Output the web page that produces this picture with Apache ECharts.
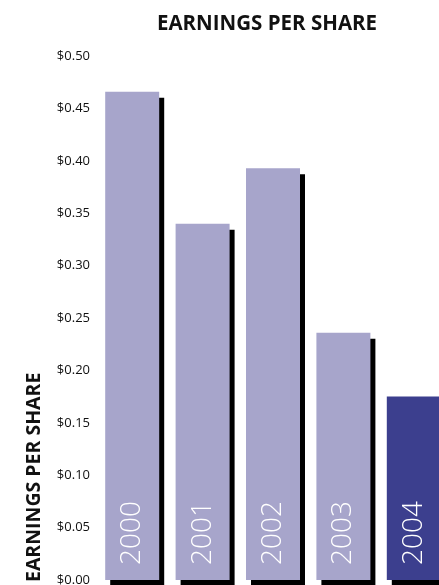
<!DOCTYPE html>
<html>
<head>
<meta charset="utf-8">
<script src="https://cdn.jsdelivr.net/npm/echarts@6/dist/echarts.min.js"></script>
<style>
    html, body { margin: 0; padding: 0; background: #fff; }
    #chart { width: 439px; height: 585px; }
</style>
</head>
<body>
<div id="chart"></div>
<script>
// data
const years = ['2000', '2001', '2002', '2003', '2004']
const eps = [0.466, 0.340, 0.393, 0.236, 0.175]

const lightColor = '#a7a5cb'
const darkColor = '#3c3f8e'

let chartInstance = echarts.init(document.getElementById('chart'))

const seriesData = eps.map((v, i) => {
    return {
        value: v,
        itemStyle: { color: i === eps.length - 1 ? darkColor : lightColor }
    }
})

const option = {
    animation: false,
    title: {
        text: 'EARNINGS PER SHARE',
        left: 262,
        top: 9,
        textAlign: 'center',
        textStyle: {
            fontFamily: 'Open Sans',
            fontWeight: 'bold',
            fontSize: 20.5,
            color: '#111'
        }
    },
    graphic: [{
        type: 'text',
        x: 34,
        y: 582,
        rotation: Math.PI / 2,
        style: {
            text: 'EARNINGS PER SHARE',
            fontFamily: 'Open Sans',
            fontWeight: 'bold',
            fontSize: 19.5,
            fill: '#111',
            align: 'left',
            verticalAlign: 'middle'
        }
    }],
    grid: {
        left: 97,
        top: 56,
        width: 352,
        bottom: 5,
        containLabel: false,
        outerBoundsMode: 'none'
    },
    xAxis: {
        type: 'category',
        data: years,
        axisLine: { show: false },
        axisTick: { show: false },
        axisLabel: { show: false }
    },
    yAxis: {
        type: 'value',
        min: 0,
        max: 0.5,
        interval: 0.05,
        splitLine: { show: false },
        axisLine: { show: false },
        axisTick: { show: false },
        axisLabel: {
            margin: 7,
            fontFamily: 'Open Sans',
            fontSize: 13,
            color: '#111',
            formatter: v => '$' + v.toFixed(2)
        }
    },
    series: [{
        type: 'bar',
        data: seriesData,
        barWidth: 54,
        itemStyle: {
            shadowColor: '#000',
            shadowBlur: 0,
            shadowOffsetX: 5,
            shadowOffsetY: 6
        },
        label: {
            show: true,
            position: 'insideBottom',
            rotate: 90,
            align: 'left',
            verticalAlign: 'middle',
            distance: 15,
            formatter: p => years[p.dataIndex],
            fontFamily: 'Open Sans',
            fontWeight: 300,
            fontSize: 28,
            color: '#fff'
        }
    }]
}

chartInstance.setOption(option)
</script>
</body>
</html>
